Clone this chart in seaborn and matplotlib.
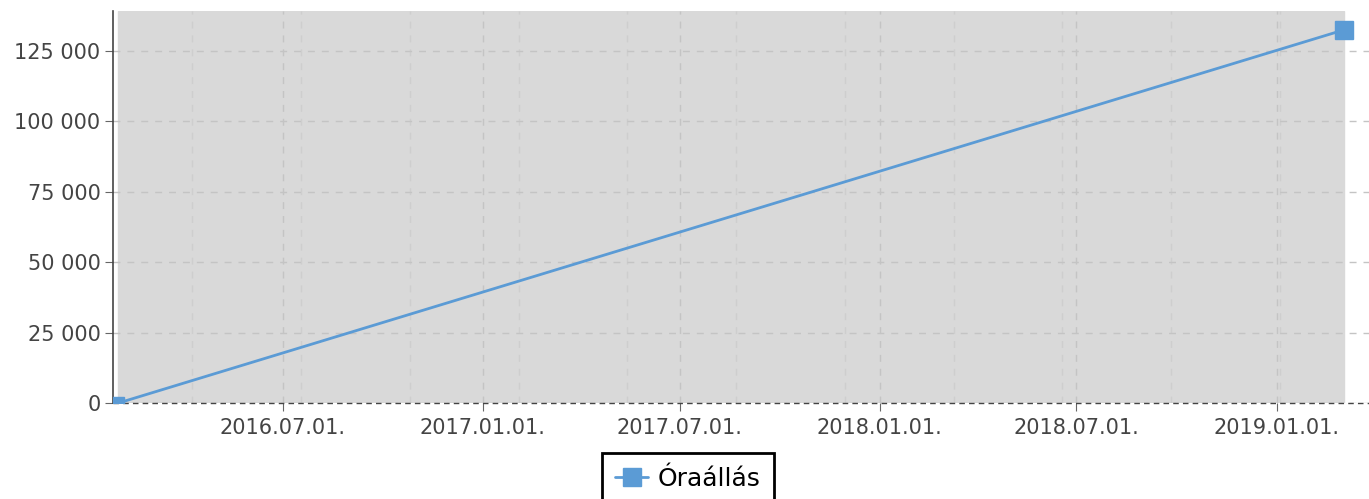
import pandas as pd
import numpy as np
import matplotlib
matplotlib.use("Agg")
import matplotlib.pyplot as plt
import matplotlib.dates as mdates
import matplotlib.ticker as mticker
import seaborn as sns

# Data
dates = ["2016-02-01", "2019-03-04"]
values = [0, 132500]
series_name = "Óraállás"

df = pd.DataFrame({"datum": pd.to_datetime(dates), "oraallas": values})

sns.set_style("white")
plt.rcParams['font.family'] = ['DejaVu Sans']

line_color = "#5b9bd5"
text_color = "#444444"

fig = plt.figure(figsize=(13.69, 4.99), dpi=100)
ax = fig.add_axes([113 / 1369, 96 / 499, 1 - 113 / 1369, 392 / 499])

# gray band covering the measured period
ax.axvspan(df["datum"].iloc[0], df["datum"].iloc[-1], color="#d9d9d9", zorder=0)

sns.lineplot(data=df, x="datum", y="oraallas", ax=ax, color=line_color,
             linewidth=2, label=series_name, zorder=3)
# markers: small at start, larger at the last reading
ax.plot(df["datum"].iloc[:1], df["oraallas"].iloc[:1], "s", color=line_color,
        markersize=9, zorder=4, clip_on=True)
ax.plot(df["datum"].iloc[-1:], df["oraallas"].iloc[-1:], "s", color=line_color,
        markersize=13, zorder=4, clip_on=False)

ax.axhline(0, color="#444444", linestyle=(0, (4, 3)), linewidth=1, zorder=2, clip_on=False)

ax.set_xlim(pd.Timestamp("2016-01-27"), pd.Timestamp("2019-03-27"))
ax.set_ylim(0, 139200)

ax.xaxis.set_major_locator(mdates.MonthLocator(bymonth=[1, 7], bymonthday=1))
ax.xaxis.set_major_formatter(mdates.DateFormatter("%Y.%m.%d."))
ax.xaxis.set_minor_locator(mticker.MultipleLocator(100))
ax.yaxis.set_major_locator(mticker.MultipleLocator(25000))
ax.yaxis.set_major_formatter(mticker.FuncFormatter(lambda v, p: f"{int(v):,}".replace(",", " ")))

ax.grid(which="major", color="#c4c4c4", linestyle=(0, (5, 5)), linewidth=1, zorder=1)
ax.grid(which="minor", axis="x", color="#cecece", linestyle=(0, (5, 5)), linewidth=1, zorder=1)
ax.set_axisbelow(True)

for side in ["top", "right", "bottom"]:
    ax.spines[side].set_visible(False)
ax.spines["left"].set_color("#444444")
ax.spines["left"].set_linewidth(1.2)

ax.tick_params(axis="both", which="major", length=6, color="#666666",
               labelcolor=text_color, labelsize=15, left=True, bottom=True)
ax.tick_params(axis="x", which="minor", length=0)
ax.tick_params(axis="x", pad=5)
ax.tick_params(axis="y", pad=3)
ax.set_xlabel("")
ax.set_ylabel("")

ax.get_legend().remove()
handle = plt.Line2D([], [], color=line_color, linewidth=2, marker="s", markersize=13)
leg = fig.legend([handle], [series_name], loc="upper center",
                 bbox_to_anchor=(688 / 1369, 1 - 453 / 499), frameon=True,
                 fancybox=False, fontsize=18, handlelength=1.3, borderpad=0.55,
                 handletextpad=0.4, borderaxespad=0, framealpha=1)
leg.get_frame().set_edgecolor("black")
leg.get_frame().set_linewidth(2)
for t in leg.get_texts():
    t.set_color("black")

fig.savefig("out.png", dpi=100)
